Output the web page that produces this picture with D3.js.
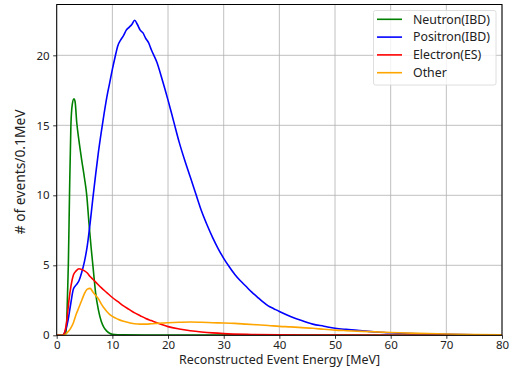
<!DOCTYPE html>
<html>
<head>
<meta charset="utf-8">
<script src="https://cdn.jsdelivr.net/npm/d3@7"></script>
<style>
  body { margin: 0; background: #fff; }
  svg { display: block; }
</style>
</head>
<body>
<div class="container"></div>
<script>
// energy knots (MeV) and counts per 0.1 MeV
const neutronE = [0, 1.5, 1.65, 1.8, 1.95, 2.1, 2.3, 2.55, 2.8, 3.1, 3.3, 3.6, 4.0, 4.5, 5.0, 5.4, 5.8, 6.2, 6.5, 7.0, 7.5, 8.0, 8.5, 9.0, 9.5, 10, 11, 12, 20, 40, 80];
const neutronN = [0, 0, 0.2, 1.0, 3.0, 5.2, 10, 15, 16.5, 16.9, 16.7, 15.2, 13.9, 12.5, 11.2, 10.0, 8.0, 6.2, 5.0, 3.0, 1.8, 1.0, 0.55, 0.3, 0.15, 0.08, 0.04, 0.03, 0.02, 0.01, 0];

const positronE = [0, 1.0, 1.3, 2.0, 2.5, 3.0, 3.5, 4.0, 4.5, 5.0, 5.5, 6.0, 6.5, 7.0, 7.5, 8.0, 8.5, 9.0, 9.5, 10, 10.5, 11, 11.5, 12, 12.5, 13, 13.5, 14, 14.5, 15, 15.5, 16, 16.5, 17, 18, 19, 20, 21, 22, 23, 24, 25, 26, 27, 28, 29, 30, 31, 32, 33, 34, 35, 36, 37, 38, 39, 40, 42, 44, 46, 48, 50, 52, 54, 56, 58, 60, 62, 65, 70, 75, 80];
const positronN = [0, 0, 0.1, 1.0, 2.2, 3.3, 3.6, 3.9, 4.5, 5.3, 6.4, 8.0, 9.8, 11.5, 13.1, 14.5, 15.8, 17.0, 18.0, 19.0, 19.9, 20.7, 21.1, 21.4, 21.8, 22.0, 22.2, 22.5, 22.2, 21.8, 21.6, 21.2, 20.9, 20.4, 19.5, 18.2, 16.8, 15.3, 13.8, 12.5, 11.3, 10.1, 8.9, 7.9, 7.0, 6.2, 5.5, 4.9, 4.35, 3.9, 3.5, 3.1, 2.75, 2.4, 2.1, 1.9, 1.7, 1.35, 1.05, 0.8, 0.65, 0.5, 0.42, 0.36, 0.28, 0.22, 0.18, 0.15, 0.11, 0.07, 0.04, 0.03];

const electronE = [0, 1.0, 1.3, 1.8, 2.2, 2.6, 3.0, 3.5, 4.0, 4.5, 5.0, 5.5, 6.0, 6.5, 7.0, 8, 9, 10, 11, 12, 13, 14, 15, 16, 17, 18, 19, 20, 22, 24, 26, 28, 30, 35, 40, 50, 80];
const electronN = [0, 0, 0.1, 1.0, 2.5, 3.6, 4.3, 4.6, 4.75, 4.7, 4.6, 4.45, 4.2, 4.0, 3.8, 3.4, 3.05, 2.7, 2.4, 2.1, 1.85, 1.6, 1.4, 1.2, 1.05, 0.9, 0.75, 0.62, 0.45, 0.33, 0.24, 0.17, 0.12, 0.06, 0.03, 0.01, 0];

const otherE = [0, 1.3, 1.8, 2.5, 3.0, 3.5, 4.0, 4.5, 5.0, 5.5, 6.0, 6.5, 7.0, 7.5, 8.0, 8.5, 9.0, 9.5, 10, 11, 12, 13, 14, 15, 16, 17, 18, 19, 20, 22, 24, 26, 28, 30, 32, 34, 36, 38, 40, 42, 44, 46, 48, 50, 52, 55, 60, 65, 70, 75, 80];
const otherN = [0, 0, 0.15, 0.5, 0.9, 1.5, 2.0, 2.5, 3.0, 3.3, 3.35, 3.1, 2.85, 2.6, 2.25, 1.95, 1.7, 1.5, 1.35, 1.15, 1.0, 0.9, 0.82, 0.8, 0.8, 0.82, 0.85, 0.88, 0.9, 0.93, 0.95, 0.93, 0.9, 0.88, 0.85, 0.8, 0.75, 0.7, 0.64, 0.6, 0.55, 0.5, 0.43, 0.37, 0.33, 0.28, 0.2, 0.14, 0.09, 0.06, 0.04];

const seriesNames = ["Neutron(IBD)", "Positron(IBD)", "Electron(ES)", "Other"];
const seriesColors = ["#008000", "#0000ff", "#ff0000", "#ffa500"];
const xTicks = [0, 10, 20, 30, 40, 50, 60, 70, 80];
const yTicks = [0, 5, 10, 15, 20];

const series = [
  { name: seriesNames[0], color: seriesColors[0], values: d3.zip(neutronE, neutronN) },
  { name: seriesNames[1], color: seriesColors[1], values: d3.zip(positronE, positronN) },
  { name: seriesNames[2], color: seriesColors[2], values: d3.zip(electronE, electronN) },
  { name: seriesNames[3], color: seriesColors[3], values: d3.zip(otherE, otherN) }
];

const width = 513, height = 378;
const margin = { top: 4.5, right: 11, bottom: 42.7, left: 56.7 };
const font = "'Noto Sans', 'DejaVu Sans', sans-serif";

const x = d3.scaleLinear().domain([0, 80]).range([margin.left, width - margin.right]);
const y = d3.scaleLinear().domain([0, 23.63]).range([height - margin.bottom, margin.top]);

const svg = d3.select(".container").append("svg")
  .attr("width", width)
  .attr("height", height)
  .style("font-family", font);

// shrink/grow a text so it spans a given width
function fitWidth(sel, target) {
  const w = sel.node().getComputedTextLength();
  const fs = parseFloat(sel.style("font-size"));
  if (w > 0) sel.style("font-size", (fs * target / w).toFixed(2) + "px");
}

// grid
const grid = svg.append("g").attr("stroke", "#b0b0b0").attr("stroke-width", 0.8);
grid.selectAll("line.gx").data(xTicks).join("line")
  .attr("class", "gx")
  .attr("x1", d => x(d)).attr("x2", d => x(d))
  .attr("y1", y.range()[0]).attr("y2", y.range()[1]);
grid.selectAll("line.gy").data(yTicks).join("line")
  .attr("class", "gy")
  .attr("x1", x.range()[0]).attr("x2", x.range()[1])
  .attr("y1", d => y(d)).attr("y2", d => y(d));

// curves
const line = d3.line()
  .x(d => x(d[0]))
  .y(d => y(d[1]))
  .curve(d3.curveMonotoneX);

svg.append("clipPath").attr("id", "plotclip").append("rect")
  .attr("x", x.range()[0]).attr("y", y.range()[1])
  .attr("width", x.range()[1] - x.range()[0])
  .attr("height", y.range()[0] - y.range()[1]);

svg.append("g").attr("clip-path", "url(#plotclip)")
  .selectAll("path").data(series).join("path")
  .attr("fill", "none")
  .attr("stroke", d => d.color)
  .attr("stroke-width", 1.6)
  .attr("stroke-linejoin", "round")
  .attr("d", d => line(d.values));

// axes
const xAxis = svg.append("g")
  .attr("transform", `translate(0,${y.range()[0]})`)
  .call(d3.axisBottom(x).tickValues(xTicks).tickSize(3.5).tickPadding(2.5));
const yAxis = svg.append("g")
  .attr("transform", `translate(${x.range()[0]},0)`)
  .call(d3.axisLeft(y).tickValues(yTicks).tickSize(3.5).tickPadding(3.5));
[xAxis, yAxis].forEach(a => {
  a.select(".domain").remove();
  a.selectAll("text").style("font-family", font).style("font-size", "11.5px").attr("fill", "#222");
  a.selectAll("line").attr("stroke", "#000").attr("stroke-width", 0.8);
});

// frame
svg.append("rect")
  .attr("x", x.range()[0]).attr("y", y.range()[1])
  .attr("width", x.range()[1] - x.range()[0])
  .attr("height", y.range()[0] - y.range()[1])
  .attr("fill", "none").attr("stroke", "#000").attr("stroke-width", 1);

// axis labels
const xLabel = svg.append("text")
  .attr("x", 279.5)
  .attr("y", 364)
  .attr("text-anchor", "middle")
  .style("font-size", "12px")
  .attr("fill", "#222")
  .text("Reconstructed Event Energy [MeV]");
fitWidth(xLabel, 201);

const yLabel = svg.append("text")
  .attr("transform", `translate(25,${(y.range()[0] + y.range()[1]) / 2 + 2}) rotate(-90)`)
  .attr("text-anchor", "middle")
  .style("font-size", "12px")
  .attr("fill", "#222")
  .text("# of events/0.1MeV");
fitWidth(yLabel, 125);

// legend
const legend = svg.append("g");
legend.append("rect")
  .attr("x", 373.5).attr("y", 10.5)
  .attr("width", 122.5).attr("height", 74.5)
  .attr("rx", 2)
  .attr("fill", "#fff").attr("fill-opacity", 0.8)
  .attr("stroke", "#d5d5d5").attr("stroke-width", 0.8);
const items = legend.selectAll("g.item").data(series).join("g")
  .attr("class", "item")
  .attr("transform", (d, i) => `translate(0,${19.3 + i * 17.8})`);
items.append("line")
  .attr("x1", 377).attr("x2", 402)
  .attr("stroke", d => d.color).attr("stroke-width", 1.6);
items.append("text")
  .attr("x", 413).attr("dy", "0.35em")
  .style("font-size", "11.5px")
  .attr("fill", "#222")
  .text(d => d.name);
fitWidth(items.filter((d, i) => i === 0).select("text"), 77);
const legendFs = items.filter((d, i) => i === 0).select("text").style("font-size");
items.selectAll("text").style("font-size", legendFs);
</script>
</body>
</html>
